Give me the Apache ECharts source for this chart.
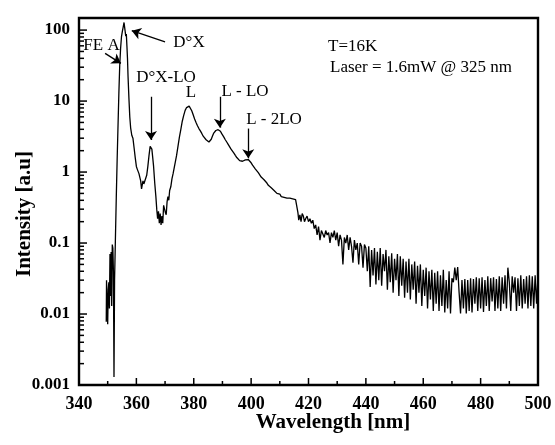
<!DOCTYPE html>
<html>
<head>
<meta charset="utf-8">
<script src="https://cdn.jsdelivr.net/npm/echarts@6/dist/echarts.min.js"></script>
<style>html,body{margin:0;padding:0;background:#fff}#c{width:555px;height:445px}</style>
</head>
<body>
<div id="c"></div>
<script>
// Wavelength (nm)
var wavelength = [
349.5,349.6,349.8,350.0,350.2,350.4,350.6,350.8,351.0,351.2,351.4,351.6,351.8,352.0,352.2,352.4,352.7,353.0,353.3,353.6,353.9,
354.2,354.5,354.8,355.1,355.4,355.7,355.9,356.1,356.3,356.5,356.7,356.9,357.1,357.4,357.7,358.0,358.4,358.8,359.2,359.6,360.0,
360.3,360.6,360.9,361.2,361.5,361.8,362.1,362.3,362.6,362.9,363.2,363.6,364.0,364.4,364.8,365.1,365.4,365.7,366.0,366.4,366.8,
367.1,367.4,367.7,368.0,368.3,368.6,368.9,369.2,369.5,369.8,370.1,370.4,370.7,371.0,371.3,371.6,372.0,372.4,372.8,373.2,373.6,
374.0,374.5,375.0,375.5,376.0,376.5,377.0,377.5,378.0,378.4,378.8,379.3,379.8,380.3,380.8,381.3,381.8,382.3,382.8,383.3,383.8,
384.3,384.8,385.3,385.7,386.1,386.5,386.9,387.3,387.7,388.1,388.5,388.9,389.3,389.7,390.1,390.5,391.0,391.5,392.0,392.5,393.0,
393.5,394.0,394.5,395.0,395.5,396.0,396.5,397.0,397.5,398.0,398.5,399.0,399.5,400.0,400.5,401.0,401.5,402.0,402.5,403.0,403.5,
404.0,404.5,405.0,405.5,406.0,406.5,407.0,407.5,408.0,408.5,409.0,409.5,410.0,410.5,411.0,411.5,412.0,412.5,413.0,413.5,414.0,
414.5,415.0,415.5,416.0,416.3,416.6,417.0,417.4,417.8,418.2,418.6,419.0,
419.5,420.0,420.5,421.0,421.5,422.0,422.5,423.0,423.5,424.0,424.5,425.0,425.5,426.0,426.5,427.0,427.5,428.0,428.5,429.0,429.5,
430.0,430.5,431.0,431.5,432.0,432.5,433.0,433.5,434.0,434.5,435.0,435.5,436.0,436.5,437.0,437.5,438.0,438.5,439.0,439.5,
440.0,440.5,441.0,441.5,442.0,442.5,443.0,443.5,444.0,444.5,445.0,445.5,446.0,446.5,447.0,447.5,448.0,448.5,449.0,449.5,
450.0,450.5,451.0,451.5,452.0,452.5,453.0,453.5,454.0,454.5,455.0,455.5,456.0,456.5,457.0,457.5,458.0,458.5,459.0,459.5,
460.0,460.5,461.0,461.5,462.0,462.5,463.0,463.5,464.0,464.5,465.0,465.5,466.0,466.5,467.0,467.5,468.0,468.5,469.0,469.5,
470.0,470.5,471.0,471.5,472.0,472.5,473.0,473.5,474.0,474.5,475.0,475.5,476.0,476.5,477.0,477.5,478.0,478.5,479.0,479.5,
480.0,480.5,481.0,481.5,482.0,482.5,483.0,483.5,484.0,484.5,485.0,485.5,486.0,486.5,487.0,487.5,488.0,488.5,489.0,489.5,
490.0,490.5,491.0,491.5,492.0,492.5,493.0,493.5,494.0,494.5,495.0,495.5,496.0,496.5,497.0,497.5,498.0,498.5,499.0,499.5,500.0
];
// Intensity (a.u)
var intensity = [
0.0078,0.030,0.029,0.0072,0.022,0.028,0.012,0.070,0.018,0.075,0.013,0.095,0.085,0.04,0.0013,0.03,0.12,0.45,1.5,4.5,13,
32,55,80,95,110,128,120,95,82,88,60,40,22,11,6,4.2,3.3,3.0,2.2,1.6,1.2,
1.1,1.05,0.95,1.0,0.75,0.58,0.6,0.75,0.68,0.72,0.68,0.9,1.2,1.7,2.3,2.45,2.1,1.6,1.2,0.7,0.45,
0.3,0.22,0.28,0.19,0.26,0.18,0.24,0.19,0.34,0.36,0.27,0.25,0.38,0.45,0.4,0.55,0.62,0.8,0.95,1.15,1.4,
1.7,2.3,3.1,4.0,5.2,6.3,7.4,8.1,8.6,8.5,8.0,7.3,6.4,5.6,5.0,4.5,4.1,3.8,3.5,3.2,3.0,
2.85,2.72,2.65,2.7,2.9,3.2,3.5,3.7,3.85,3.9,3.95,3.85,3.75,3.5,3.3,3.1,2.85,2.65,2.45,2.3,2.1,
2.0,1.85,1.72,1.6,1.5,1.45,1.38,1.42,1.36,1.48,1.4,1.5,1.42,1.35,1.25,1.22,1.1,1.05,0.98,0.95,0.85,
0.88,0.78,0.74,0.7,0.65,0.66,0.6,0.62,0.55,0.52,0.5,0.47,0.49,0.45,0.47,0.44,0.45,0.43,0.44,0.43,0.43,
0.42,0.42,0.41,0.40,0.27,0.21,0.25,0.20,0.26,0.24,0.20,0.22,
0.24,0.2,0.22,0.19,0.21,0.16,0.18,0.13,0.17,0.11,0.15,0.16,0.12,0.15,0.13,0.14,0.10,0.14,0.12,0.15,0.11,
0.14,0.09,0.13,0.11,0.05,0.12,0.10,0.13,0.08,0.12,0.09,0.053,0.11,0.08,0.10,0.05,0.10,0.09,0.045,0.095,
0.085,0.04,0.09,0.024,0.08,0.035,0.085,0.026,0.075,0.03,0.085,0.025,0.07,0.04,0.08,0.022,0.065,0.028,0.072,0.02,
0.06,0.03,0.07,0.018,0.065,0.025,0.06,0.017,0.055,0.02,0.06,0.016,0.05,0.022,0.055,0.014,0.048,0.02,0.05,0.013,
0.042,0.018,0.045,0.012,0.04,0.016,0.042,0.011,0.038,0.014,0.04,0.011,0.035,0.013,0.042,0.0105,0.03,0.012,0.04,0.0102,
0.032,0.028,0.045,0.03,0.046,0.02,0.0102,0.03,0.012,0.031,0.0102,0.03,0.011,0.032,0.0105,0.031,0.014,0.033,0.011,0.032,
0.012,0.033,0.0107,0.03,0.013,0.034,0.011,0.032,0.015,0.033,0.011,0.031,0.012,0.034,0.011,0.033,0.014,0.035,0.012,0.045,
0.028,0.011,0.034,0.02,0.033,0.011,0.032,0.013,0.035,0.012,0.031,0.014,0.034,0.012,0.035,0.013,0.034,0.012,0.035,0.014,0.034
];
var xTickValues = [360, 380, 400, 420, 440, 460, 480];
var xMinorTickValues = [350, 370, 390, 410, 430, 450, 470, 490];
var yTickValues = [0.001, 0.01, 0.1, 1, 10, 100];
var yMinorTickValues = [
0.002,0.003,0.004,0.005,0.006,0.007,0.008,0.009,
0.02,0.03,0.04,0.05,0.06,0.07,0.08,0.09,
0.2,0.3,0.4,0.5,0.6,0.7,0.8,0.9,
2,3,4,5,6,7,8,9,
20,30,40,50,60,70,80,90
];
// Annotation arrows: [fromWavelength, fromIntensity, toWavelength, toIntensity]
var arrows = [
  [370.0, 68, 358.4, 98],      // D°X
  [349.1, 47, 354.6, 34],      // FE A
  [365.1, 11.5, 365.1, 2.83],  // D°X-LO
  [389.1, 11.5, 389.1, 4.22],  // L - LO
  [399.0, 4.1, 399.0, 1.56]    // L - 2LO
];

var X_MIN = 340, X_MAX = 500, Y_MIN = 0.001, Y_MAX = 148;
var points = wavelength.map(function (w, i) { return [w, intensity[i]]; });
var serif = '"Liberation Serif", "DejaVu Serif", serif';

function fmt(v) {
  if (v >= 1) return String(Math.round(v));
  return String(+v.toPrecision(1));
}

// tick items: [x, y, orientation(0 = on x axis, 1 = on y axis), length px]
var tickItems = []
  .concat(xTickValues.map(function (v) { return [v, Y_MIN, 0, 7]; }))
  .concat(xMinorTickValues.map(function (v) { return [v, Y_MIN, 0, 4]; }))
  .concat(yTickValues.slice(1).map(function (v) { return [X_MIN, v, 1, 8]; }))
  .concat(yMinorTickValues.map(function (v) { return [X_MIN, v, 1, 5]; }));

var arrowLines = arrows.map(function (a) {
  return [{ coord: [a[0], a[1]] }, { coord: [a[2], a[3]] }];
});

var chart = echarts.init(document.getElementById('c'));
var txt = function (x, y, s, size, bold, align) {
  return {
    type: 'text', x: x, y: y, silent: true,
    style: {
      text: s, fill: '#000', font: (bold ? 'bold ' : '') + size + 'px ' + serif,
      textAlign: align || 'left', textVerticalAlign: 'middle'
    }
  };
};
chart.setOption({
  animation: false,
  backgroundColor: '#fff',
  grid: {
    left: 79, right: 17, top: 18, bottom: 60,
    show: true, borderColor: '#000', borderWidth: 2.4
  },
  xAxis: {
    type: 'value', min: X_MIN, max: X_MAX, interval: 20,
    axisLine: { show: true, onZero: false, lineStyle: { color: '#000', width: 2 } },
    axisTick: { show: false },
    splitLine: { show: false },
    axisLabel: {
      color: '#000', fontFamily: serif, fontWeight: 'bold', fontSize: 18, margin: 10
    }
  },
  yAxis: {
    type: 'log', logBase: 10, min: Y_MIN, max: Y_MAX,
    axisLine: { show: true, onZero: false, lineStyle: { color: '#000', width: 2 } },
    axisTick: { show: false },
    splitLine: { show: false },
    axisLabel: {
      color: '#000', fontFamily: serif, fontWeight: 'bold', fontSize: 17, margin: 9,
      customValues: yTickValues, formatter: function (v) { return fmt(v); }
    }
  },
  series: [{
    type: 'line',
    data: points,
    showSymbol: false,
    symbol: 'none',
    lineStyle: { color: '#000', width: 1.3 },
    markLine: {
      silent: true,
      animation: false,
      symbol: ['none', 'arrow'],
      symbolSize: 9,
      lineStyle: { color: '#000', width: 1.3, type: 'solid' },
      label: { show: false },
      data: arrowLines
    }
  }, {
    type: 'custom',
    name: 'ticks',
    silent: true,
    clip: false,
    z: 20,
    data: tickItems,
    encode: { x: 0, y: 1 },
    renderItem: function (params, api) {
      var p = api.coord([api.value(0), api.value(1)]);
      var len = api.value(3);
      var horizontal = api.value(2) === 1;
      return {
        type: 'line',
        shape: {
          x1: p[0], y1: p[1],
          x2: horizontal ? p[0] + len : p[0],
          y2: horizontal ? p[1] : p[1] - len
        },
        style: { stroke: '#000', lineWidth: 1.5 }
      };
    }
  }],
  graphic: [
    txt(101.5, 46, 'FE A', 17, false, 'center'),
    txt(189, 43, 'D°X', 17, false, 'center'),
    txt(166, 78, 'D°X-LO', 17, false, 'center'),
    txt(191, 93, 'L', 17, false, 'center'),
    txt(245, 92, 'L - LO', 17, false, 'center'),
    txt(274, 120, 'L - 2LO', 17, false, 'center'),
    txt(328, 47, 'T=16K', 17, false, 'left'),
    txt(330, 68, 'Laser = 1.6mW @ 325 nm', 17, false, 'left'),
    txt(333, 423, 'Wavelength [nm]', 21, true, 'center'),
    {
      type: 'text', x: 25, y: 214, rotation: Math.PI / 2, silent: true,
      style: {
        text: 'Intensity [a.u]', fill: '#000', font: 'bold 21px ' + serif,
        textAlign: 'center', textVerticalAlign: 'middle'
      }
    }
  ]
});
</script>
</body>
</html>
